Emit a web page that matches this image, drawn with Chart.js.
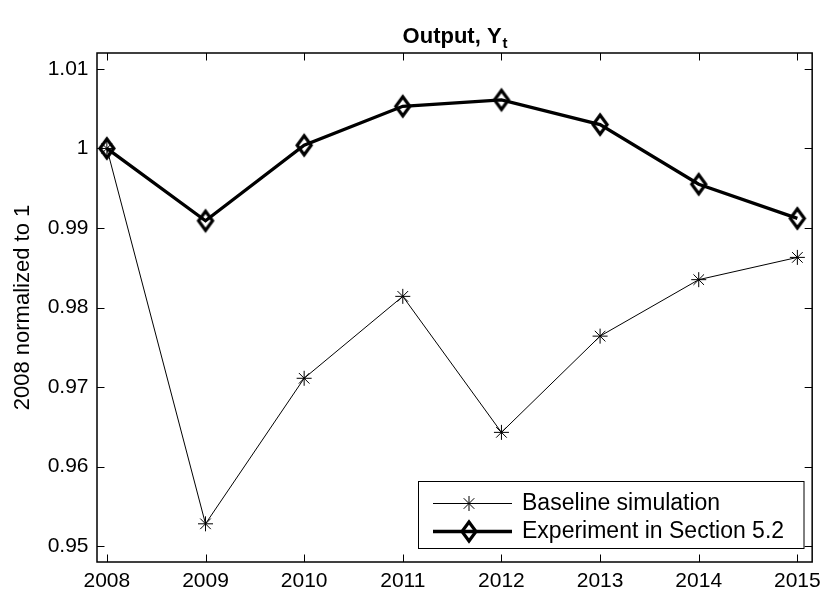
<!DOCTYPE html>
<html><head><meta charset="utf-8">
<script src="https://cdn.jsdelivr.net/npm/chart.js@4.4.0/dist/chart.umd.min.js"></script>
<style>html,body{margin:0;padding:0;background:#fff}#wrap{width:828px;height:598px}</style>
</head><body><div id="wrap"><canvas id="c" width="828" height="598"></canvas></div>
<script>
const years = [2008, 2009, 2010, 2011, 2012, 2013, 2014, 2015];
const baseline = [1.0000, 0.9528, 0.9711, 0.9814, 0.9643, 0.9764, 0.9835, 0.9863];
const experiment = [1.0000, 0.9909, 1.0004, 1.0053, 1.0061, 1.0030, 0.9955, 0.9912];
const yTicks = [0.95, 0.96, 0.97, 0.98, 0.99, 1.00, 1.01];
const seriesLabels = ['Baseline simulation', 'Experiment in Section 5.2'];
const titleMain = 'Output, Y';
const titleSub = 't';
const yAxisLabel = '2008 normalized to 1';

const FONT = '"Liberation Sans", Arial, Helvetica, sans-serif';

function diamondCanvas(w, h, lw) {
  const c = document.createElement('canvas');
  c.width = w + lw * 4; c.height = h + lw * 4;
  const g = c.getContext('2d');
  g.lineWidth = lw; g.strokeStyle = '#000'; g.lineJoin = 'miter';
  const cx = c.width / 2, cy = c.height / 2;
  g.beginPath();
  g.moveTo(cx, cy - h / 2); g.lineTo(cx + w / 2, cy);
  g.lineTo(cx, cy + h / 2); g.lineTo(cx - w / 2, cy);
  g.closePath(); g.stroke();
  return c;
}
const diamond = diamondCanvas(14, 19, 3.2);

const toPts = arr => years.map((yr, i) => ({x: yr, y: arr[i]}));

const framePlugin = {
  id: 'frame',
  afterDatasetsDraw(chart) {
    const {ctx, chartArea: a, scales} = chart;
    ctx.save();
    ctx.strokeStyle = '#000';
    ctx.lineWidth = 1;
    const tl = 7.5;
    ctx.beginPath();
    years.forEach(v => {
      const px = Math.round(scales.x.getPixelForValue(v)) + 0.5;
      ctx.moveTo(px, a.bottom); ctx.lineTo(px, a.bottom - tl);
      ctx.moveTo(px, a.top); ctx.lineTo(px, a.top + tl);
    });
    yTicks.forEach(v => {
      const py = Math.round(scales.y.getPixelForValue(v)) + 0.5;
      ctx.moveTo(a.left, py); ctx.lineTo(a.left + tl, py);
      ctx.moveTo(a.right, py); ctx.lineTo(a.right - tl, py);
    });
    ctx.stroke();
    ctx.lineWidth = 1.5;
    ctx.strokeRect(a.left, a.top, a.right - a.left, a.bottom - a.top);
    ctx.restore();
  },
  afterDraw(chart) {
    const {ctx, chartArea: a} = chart;
    ctx.save();
    ctx.fillStyle = '#000';
    ctx.textBaseline = 'alphabetic';
    ctx.font = 'bold 22px ' + FONT;
    const w1 = ctx.measureText(titleMain).width;
    ctx.font = 'bold 15px ' + FONT;
    const w2 = ctx.measureText(titleSub).width;
    const cx = (a.left + a.right) / 2;
    const x0 = cx - (w1 + w2) / 2;
    ctx.font = 'bold 22px ' + FONT;
    ctx.textAlign = 'left';
    ctx.fillText(titleMain, x0, 43);
    ctx.font = 'bold 15px ' + FONT;
    ctx.fillText(titleSub, x0 + w1 + 1, 48);

    const bx = 418.5, by = 481.5, bw = 385.5, bh = 67;
    ctx.fillStyle = '#fff';
    ctx.fillRect(bx, by, bw, bh);
    ctx.strokeStyle = '#000';
    ctx.lineWidth = 1;
    ctx.strokeRect(bx, by, bw, bh);
    const rows = [503.5, 531.5];
    chart.data.datasets.forEach((ds, i) => {
      const y = rows[i];
      ctx.strokeStyle = '#000';
      ctx.lineWidth = ds.borderWidth;
      ctx.beginPath(); ctx.moveTo(433, y); ctx.lineTo(512, y); ctx.stroke();
      Chart.helpers.drawPoint(ctx, {
        pointStyle: ds.pointStyle, radius: ds.pointRadius, rotation: 0,
        borderWidth: ds.pointBorderWidth
      }, 469, y);
      ctx.fillStyle = '#000';
      ctx.font = '23px ' + FONT;
      ctx.textAlign = 'left';
      ctx.textBaseline = 'alphabetic';
      ctx.fillText(ds.label, 522, y + 6);
    });
    ctx.restore();
  }
};

new Chart(document.getElementById('c'), {
  type: 'line',
  data: {
    datasets: [
      {
        label: seriesLabels[0],
        data: toPts(baseline),
        borderColor: '#000', backgroundColor: '#000',
        borderWidth: 1,
        pointStyle: 'star', pointRadius: 7.5, pointBorderWidth: 1,
        pointBorderColor: '#000', pointHoverRadius: 7.5,
        tension: 0, fill: false
      },
      {
        label: seriesLabels[1],
        data: toPts(experiment),
        borderColor: '#000', backgroundColor: 'rgba(0,0,0,0)',
        borderWidth: 3.3,
        pointStyle: diamond, pointRadius: 10, pointBorderWidth: 3,
        pointBorderColor: '#000',
        tension: 0, fill: false
      }
    ]
  },
  options: {
    responsive: false,
    animation: false,
    devicePixelRatio: 1,
    layout: {padding: {top: 53, right: 11, left: 0, bottom: 0}},
    plugins: {legend: {display: false}, title: {display: false}, tooltip: {enabled: false}},
    scales: {
      x: {
        type: 'linear', min: 2007.9, max: 2015.15,
        afterBuildTicks: s => { s.ticks = years.map(v => ({value: v})); },
        afterFit: s => { s.height = 36; },
        grid: {display: false, drawTicks: false},
        border: {display: false},
        ticks: {
          color: '#000', padding: 7, maxRotation: 0, autoSkip: false,
          font: {family: FONT, size: 21},
          callback: v => String(v)
        }
      },
      y: {
        type: 'linear', min: 0.948, max: 1.012,
        afterBuildTicks: s => { s.ticks = yTicks.map(v => ({value: v})); },
        afterFit: s => { s.width = 97; },
        grid: {display: false, drawTicks: false},
        border: {display: false},
        ticks: {
          color: '#000', padding: 8.5, autoSkip: false,
          font: {family: FONT, size: 21},
          callback: v => String(Math.round(v * 100) / 100)
        },
        title: {
          display: true, text: yAxisLabel, color: '#000',
          font: {family: FONT, size: 22}, padding: {top: 10, bottom: 0}
        }
      }
    }
  },
  plugins: [framePlugin]
});
</script>
</body></html>
